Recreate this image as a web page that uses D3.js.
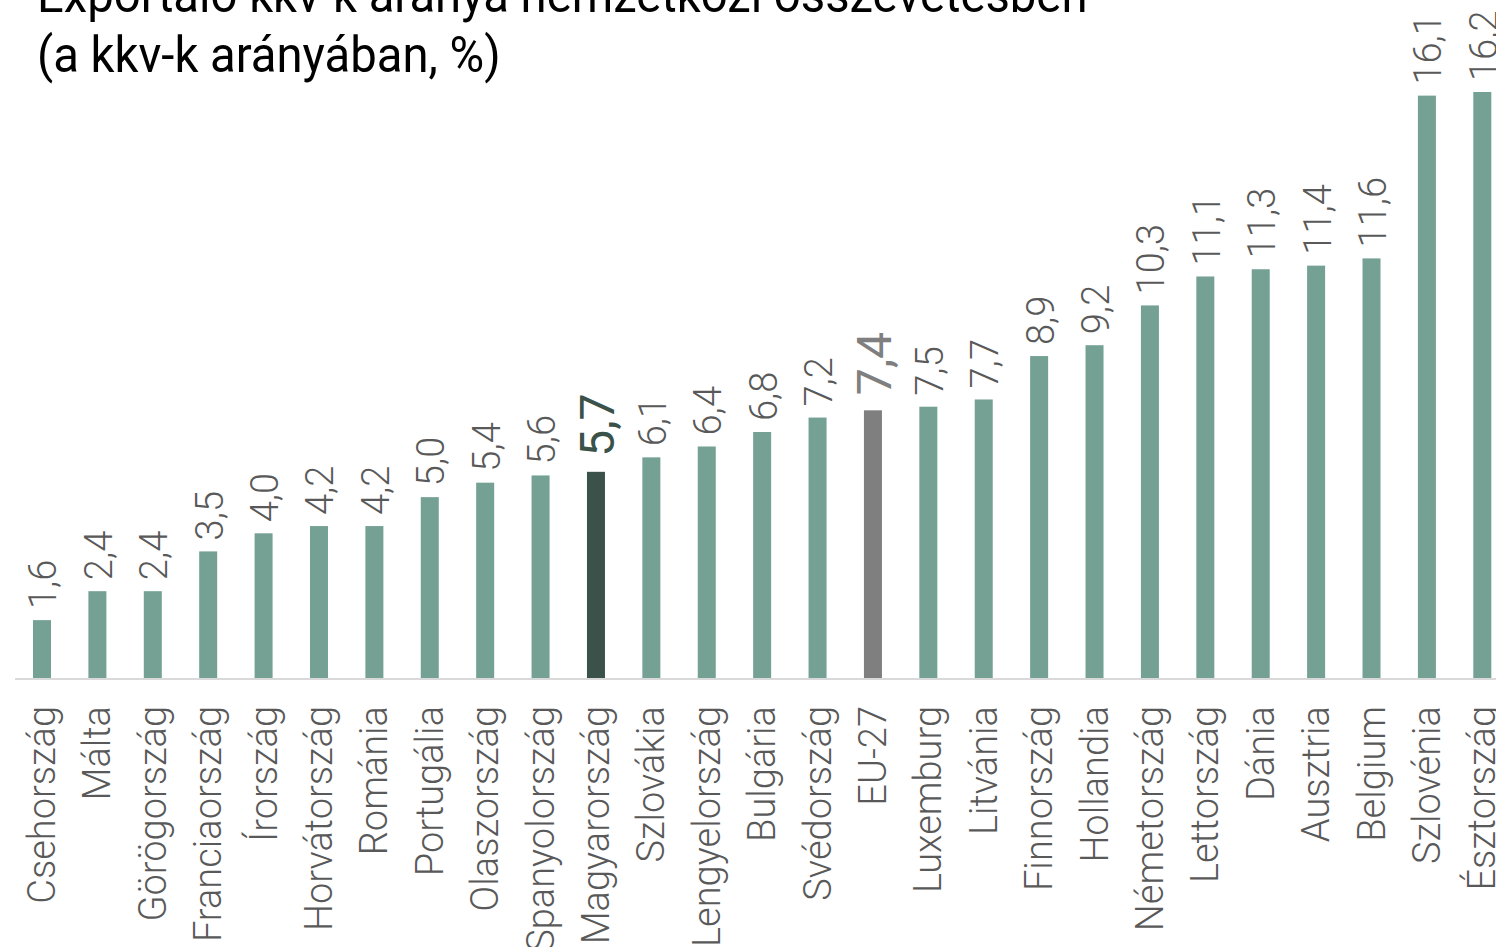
<!DOCTYPE html>
<html>
<head>
<meta charset="utf-8">
<script src="https://cdn.jsdelivr.net/npm/d3@7"></script>
<style>
  body { margin: 0; background: #fff; overflow: hidden; }
  svg { display: block; }
</style>
</head>
<body>
<div id="chart"></div>
<script>
// Data
const countries = ["Csehország", "Málta", "Görögország", "Franciaország", "Írország", "Horvátország",
  "Románia", "Portugália", "Olaszország", "Spanyolország", "Magyarország", "Szlovákia", "Lengyelország",
  "Bulgária", "Svédország", "EU-27", "Luxemburg", "Litvánia", "Finnország", "Hollandia", "Németország",
  "Lettország", "Dánia", "Ausztria", "Belgium", "Szlovénia", "Észtország"];
const values = [1.6, 2.4, 2.4, 3.5, 4.0, 4.2, 4.2, 5.0, 5.4, 5.6, 5.7, 6.1, 6.4, 6.8, 7.2, 7.4, 7.5, 7.7,
  8.9, 9.2, 10.3, 11.1, 11.3, 11.4, 11.6, 16.1, 16.2];
const titleLines = ["Exportáló kkv-k aránya nemzetközi összevetésben", "(a kkv-k arányában, %)"];

const width = 1496, height = 947;
const baseY = 678;
const lightFont = "'Roboto Light', Roboto, sans-serif";

const svg = d3.select("#chart")
  .append("svg")
  .attr("width", width)
  .attr("height", height);

// Title (slightly condensed)
svg.append("text")
  .attr("transform", "translate(37,12) scale(0.945,1)")
  .style("font-family", "Roboto, sans-serif")
  .style("font-size", "50px")
  .style("fill", "#000")
  .selectAll("tspan")
  .data(titleLines)
  .enter()
  .append("tspan")
  .attr("x", 0)
  .attr("dy", (d, i) => i === 0 ? 0 : 60)
  .text(d => d);

// Scales
const x = d3.scaleBand()
  .domain(countries)
  .range([14.3, 1510])
  .paddingInner(0.675)
  .paddingOuter(0.3375);

const y = d3.scaleLinear()
  .domain([0, 16.2])
  .range([baseY, 92]);

function barColor(c) {
  if (c === "Magyarország") return "#3a5249";
  if (c === "EU-27") return "#7f7f7f";
  return "#74a194";
}
const isBig = c => c === "Magyarország" || c === "EU-27";

const data = countries.map((c, i) => ({ c: c, v: values[i] }));

// Bars
svg.selectAll(".bar")
  .data(data)
  .enter()
  .append("rect")
  .attr("class", "bar")
  .attr("x", d => x(d.c))
  .attr("y", d => y(d.v))
  .attr("width", x.bandwidth())
  .attr("height", d => baseY - y(d.v))
  .attr("fill", d => barColor(d.c));

// Baseline
svg.append("line")
  .attr("x1", 15)
  .attr("x2", width)
  .attr("y1", baseY + 1)
  .attr("y2", baseY + 1)
  .attr("stroke", "#d9d9d9")
  .attr("stroke-width", 2);

// Value labels
svg.selectAll(".val")
  .data(data)
  .enter()
  .append("text")
  .attr("class", "val")
  .attr("transform", d => {
    const fs = isBig(d.c) ? 48 : 38;
    const gap = isBig(d.c) ? 15 : 11;
    return "translate(" + (x(d.c) + x.bandwidth() / 2 + fs * 0.38) + "," + (y(d.v) - gap) + ") rotate(-90)";
  })
  .style("font-family", d => isBig(d.c) ? "Roboto, sans-serif" : lightFont)
  .style("font-weight", d => isBig(d.c) ? 400 : 300)
  .style("font-size", d => isBig(d.c) ? "48px" : "38px")
  .style("fill", d => d.c === "Magyarország" ? "#3a5249" : (d.c === "EU-27" ? "#7f7f7f" : "#595959"))
  .text(d => d3.format(".1f")(d.v).replace(".", ","));

// Category labels
svg.selectAll(".cat")
  .data(data)
  .enter()
  .append("text")
  .attr("class", "cat")
  .attr("text-anchor", "end")
  .attr("transform", d => "translate(" + (x(d.c) + x.bandwidth() / 2 + 13) + "," + 706 + ") rotate(-90)")
  .style("font-family", lightFont)
  .style("font-weight", 300)
  .style("font-size", "38px")
  .style("fill", "#595959")
  .text(d => d.c);
</script>
</body>
</html>
